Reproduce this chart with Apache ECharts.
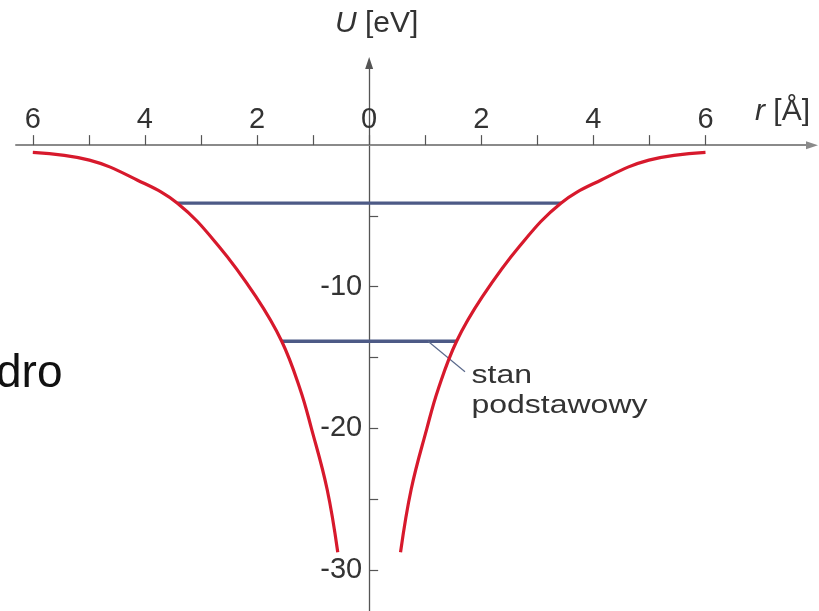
<!DOCTYPE html>
<html>
<head>
<meta charset="utf-8">
<script src="https://cdn.jsdelivr.net/npm/echarts@6/dist/echarts.min.js"></script>
<style>
  html, body { margin: 0; padding: 0; background: #fff; }
  #chart { width: 819px; height: 611px; }
</style>
</head>
<body>
<div id="chart"></div>
<script>
// Potential energy U(r) of the electron near the nucleus; the well is symmetric,
// so one half is listed and mirrored to negative r.
const wellR = [0.56, 0.75, 1.03, 1.23, 1.56, 2.02, 2.69, 3.42, 4.14, 4.99, 6.0];
const wellU = [-28.75, -24.3, -20.0, -17.25, -13.85, -10.7, -7.1, -4.1, -2.46, -1.06, -0.51];

// Energy levels: energy and the r where each level meets the walls of the well
const levelEnergy = [-13.85, -4.1];
const levelLeftR = [-1.56, -3.42];
const levelRightR = [1.56, 3.42];

// Pointer from the ground level towards its caption
const pointerR = [1.05, 1.71];
const pointerU = [-13.85, -16.0];

// Axis ticks and labels
const rTicks = [-6, -5, -4, -3, -2, -1, 0, 1, 2, 3, 4, 5, 6];
const rLabels = [-6, -4, -2, 0, 2, 4, 6];
const uTicks = [-30, -25, -20, -15, -10, -5];
const uLabels = [-30, -20, -10];

const FONT = '"Liberation Sans", Arial, Helvetica, sans-serif';
const RED = '#d7192c';
const BLUE = '#4d5a86';

const rightWell = wellR.map((r, i) => [r, wellU[i]]);
const leftWell = wellR.map((r, i) => [-r, wellU[i]]).reverse();

const levelSeries = levelEnergy.map((e, i) => ({
  type: 'line',
  data: [[levelLeftR[i], e], [levelRightR[i], e]],
  symbol: 'none',
  silent: true,
  lineStyle: { color: BLUE, width: 3.3 },
  z: 2
}));

function wellSeries(data) {
  return {
    type: 'line',
    data: data,
    smooth: 0.4,
    symbol: 'none',
    silent: true,
    lineStyle: { color: RED, width: 3.2, cap: 'butt' },
    z: 3
  };
}

const GRID = { left: 16, right: 7, top: 63, bottom: 0 };

const chart = echarts.init(document.getElementById('chart'), null, { renderer: 'canvas' });

chart.setOption({
  animation: false,
  backgroundColor: '#ffffff',
  grid: Object.assign({ containLabel: false, outerBoundsMode: 'none' }, GRID),
  xAxis: {
    type: 'value',
    min: -6.3,
    max: 7.9,
    position: 'top',
    splitLine: { show: false },
    axisLine: {
      onZero: false,
      lineStyle: { color: '#8a8a8a', width: 2 },
      symbol: ['none', 'triangle'],
      symbolSize: [8, 12]
    },
    axisTick: {
      show: true,
      length: 10,
      customValues: rTicks,
      lineStyle: { color: '#555', width: 1.2 }
    },
    axisLabel: {
      customValues: rLabels,
      margin: 11,
      color: '#333',
      fontFamily: FONT,
      fontSize: 29,
      formatter: v => String(Math.abs(v))
    }
  },
  yAxis: {
    type: 'value',
    min: -32.9,
    max: 5.8,
    position: 'left',
    splitLine: { show: false },
    axisLine: {
      onZero: false,
      lineStyle: { color: '#555', width: 1.3 },
      symbol: ['none', 'triangle'],
      symbolSize: [8, 12]
    },
    axisTick: {
      show: true,
      inside: true,
      length: 9,
      customValues: uTicks,
      lineStyle: { color: '#555', width: 1.2 }
    },
    axisLabel: {
      customValues: uLabels,
      margin: 7,
      color: '#333',
      fontFamily: FONT,
      fontSize: 29,
      formatter: v => String(v)
    }
  },
  series: levelSeries.concat([
    {
      type: 'line',
      data: pointerR.map((r, i) => [r, pointerU[i]]),
      symbol: 'none',
      silent: true,
      lineStyle: { color: '#5b6a8c', width: 1.2 },
      z: 2
    },
    wellSeries(leftWell),
    wellSeries(rightWell)
  ]),
  graphic: [
    {
      type: 'text',
      x: 335, y: 9,
      style: {
        text: '{i|U} [eV]',
        fontFamily: FONT,
        fontSize: 30,
        fill: '#333',
        rich: { i: { fontStyle: 'italic', fontFamily: FONT, fontSize: 30, fill: '#333' } }
      }
    },
    {
      type: 'text',
      x: 755, y: 97,
      style: {
        text: '{i|r} [Å]',
        fontFamily: FONT,
        fontSize: 30,
        fill: '#333',
        rich: { i: { fontStyle: 'italic', fontFamily: FONT, fontSize: 30, fill: '#333' } }
      }
    },
    {
      type: 'text',
      x: 471.5, y: 361,
      scaleX: 1.23,
      style: {
        text: 'stan\npodstawowy',
        fontFamily: FONT,
        fontSize: 26,
        lineHeight: 30,
        fill: '#333'
      }
    },
    {
      type: 'text',
      x: -4, y: 351,
      style: {
        text: 'dro',
        fontFamily: FONT,
        fontSize: 46,
        fill: '#111'
      }
    }
  ]
});

// Both axes cross at the origin: shift each axis (line, ticks and labels) onto the zero of the other.
const origin = chart.convertToPixel({ gridIndex: 0 }, [0, 0]);
chart.setOption({
  xAxis: { offset: GRID.top - origin[1] },
  yAxis: { offset: GRID.left - origin[0] }
});
</script>
</body>
</html>
